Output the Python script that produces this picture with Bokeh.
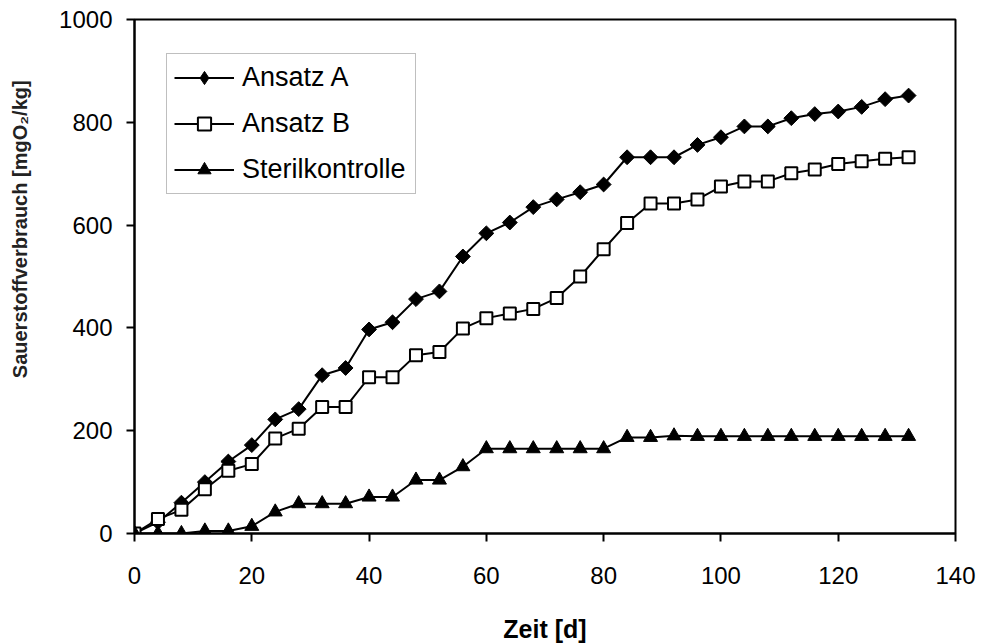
import math
from bokeh.plotting import figure
from bokeh.models import Range1d, FixedTicker, Legend, LegendItem, ColumnDataSource
from bokeh.embed import file_html
from bokeh.resources import INLINE

days = [0, 4, 8, 12, 16, 20, 24, 28, 32, 36, 40, 44, 48, 52, 56, 60, 64,
        68, 72, 76, 80, 84, 88, 92, 96, 100, 104, 108, 112, 116, 120, 124, 128, 132]
ansatz_a = [0, 22, 60, 100, 140, 172, 222, 242, 308, 322, 397, 411, 456, 471, 539, 584, 605,
            635, 650, 664, 679, 732, 732, 732, 756, 771, 792, 792, 808, 816, 821, 830, 845, 852]
ansatz_b = [0, 28, 46, 86, 122, 135, 185, 204, 246, 246, 304, 304, 347, 353, 399, 419, 428,
            437, 458, 500, 553, 604, 642, 642, 650, 675, 685, 685, 701, 708, 719, 724, 729, 732]
steril = [0, 0, 0, 5, 5, 14, 42, 58, 58, 58, 71, 71, 104, 104, 130, 165, 165,
          165, 165, 165, 165, 187, 187, 190, 189, 189, 189, 189, 189, 189, 189, 189, 189, 189]

series_names = ["Ansatz A", "Ansatz B", "Sterilkontrolle"]
x_ticks = [0, 20, 40, 60, 80, 100, 120, 140]
y_ticks = [0, 200, 400, 600, 800, 1000]
x_label = "Zeit [d]"
y_label = "Sauerstoffverbrauch [mgO\u2082/kg]"

FONT = "Liberation Sans"

p = figure(width=981, height=644, frame_width=821, frame_height=514,
           output_backend="svg", toolbar_location=None,
           x_range=Range1d(0, 140), y_range=Range1d(0, 1000),
           min_border_left=134, min_border_right=26, min_border_top=19,
           min_border_bottom=111)
p.background_fill_color = "white"
p.border_fill_color = "white"
p.outline_line_color = "black"
p.outline_line_width = 2
p.xgrid.visible = False
p.ygrid.visible = False

for ax, ticks in ((p.xaxis[0], x_ticks), (p.yaxis[0], y_ticks)):
    ax.ticker = FixedTicker(ticks=ticks)
    ax.minor_tick_line_color = None
    ax.major_tick_in = 0
    ax.major_tick_out = 8
    ax.major_tick_line_width = 2
    ax.axis_line_width = 2
    ax.axis_line_color = "black"
    ax.major_tick_line_color = "black"
    ax.major_label_text_font = FONT
    ax.major_label_text_font_size = "24px"
    ax.major_label_text_color = "black"
p.yaxis[0].major_label_standoff = 14
p.xaxis[0].major_label_standoff = 25

p.xaxis[0].axis_label = x_label
p.xaxis[0].axis_label_text_font = FONT
p.xaxis[0].axis_label_text_font_size = "25px"
p.xaxis[0].axis_label_text_font_style = "bold"
p.xaxis[0].axis_label_text_color = "black"
p.xaxis[0].axis_label_standoff = 28

# leading no-break spaces shift the centred label upwards, as in the reference
p.yaxis[0].axis_label = "\u00a0" * 17 + y_label
p.yaxis[0].axis_label_text_font = FONT
p.yaxis[0].axis_label_text_font_size = "20px"
p.yaxis[0].axis_label_text_font_style = "bold"
p.yaxis[0].axis_label_text_color = "#222222"
p.yaxis[0].axis_label_standoff = 25

src_a = ColumnDataSource(data=dict(x=days, y=ansatz_a, ang=[math.pi / 4] * len(days)))

ra_line = p.line(days, ansatz_a, line_color="black", line_width=2)
ra_mark = p.scatter("x", "y", source=src_a, marker="square", angle="ang", size=10.5,
                    fill_color="black", line_color="black", line_width=1)
# legend-only glyph (the legend draws markers unrotated)
ra_key = p.scatter(days, ansatz_a, marker="diamond", size=14, visible=False,
                   fill_color="black", line_color="black", line_width=1)
rb_line = p.line(days, ansatz_b, line_color="black", line_width=2)
rb_mark = p.scatter(days, ansatz_b, marker="square", size=12,
                    fill_color="white", line_color="black", line_width=2)
rc_line = p.line(days, steril, line_color="black", line_width=2)
rc_mark = p.scatter(days, steril, marker="triangle", size=14,
                    fill_color="black", line_color="black", line_width=1)

legend = Legend(items=[
    LegendItem(label=series_names[0], renderers=[ra_line, ra_key]),
    LegendItem(label=series_names[1], renderers=[rb_line, rb_mark]),
    LegendItem(label=series_names[2], renderers=[rc_line, rc_mark]),
], location=(32, 339))
legend.label_text_font = FONT
legend.label_text_font_size = "27px"
legend.label_text_color = "black"
legend.glyph_width = 60
legend.glyph_height = 33
legend.label_height = 33
legend.label_width = 166
legend.label_standoff = 8
legend.spacing = 13
legend.padding = 7
legend.margin = 0
legend.border_line_color = "#808080"
legend.border_line_width = 1
legend.background_fill_color = "white"
legend.background_fill_alpha = 1
p.add_layout(legend, "center")

open("out.html", "w").write(file_html(p, INLINE))
